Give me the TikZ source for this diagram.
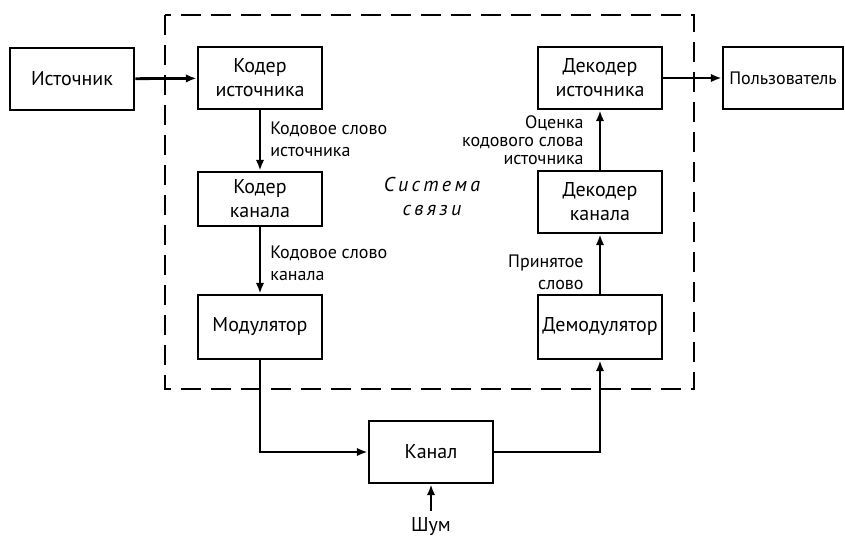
\documentclass[tikz,border=0pt]{standalone}
\usepackage{fontspec}
\setmainfont{PT Sans}
\usetikzlibrary{arrows.meta,positioning}

\begin{document}
\begin{tikzpicture}[x=0.5pt,y=-0.5pt,
        bx/.style={draw,line width=1.4pt,minimum width=62pt,minimum height=31pt,
                   align=center,inner sep=2pt,font=\normalsize},
        lb/.style={font=\small,inner sep=0pt},
        ar/.style={-{Latex[length=1.9mm,width=1.5mm]},line width=1.4pt}]
      \useasboundingbox (0,0) rectangle (845,538);
      % dashed frame of the system
      \draw[line width=1.4pt,dash pattern=on 10pt off 5pt] (165,15) rectangle (694,389);
      \node[bx] (src) at (72,79) {Источник};
      \node[bx] (scod) at (260,78) {Кодер\\источника};
      \node[bx,minimum height=27pt] (ccod) at (260,199) {Кодер\\канала};
      \node[bx,minimum height=32pt] (mod) at (260,327) {Модулятор};
      \node[bx] (chan) at (431,452) {Канал};
      \node[bx,minimum height=32pt] (demod) at (600,327) {Демодулятор};
      \node[bx] (cdec) at (600,202) {Декодер\\канала};
      \node[bx] (sdec) at (600,78) {Декодер\\источника};
      \node[bx,minimum width=60pt,inner sep=1pt,font=\small] (user) at (783,78) {Пользователь};
      \node (noise) at (431,527) {Шум};
      \node[align=center,font=\normalsize\itshape] (sys) at (432,196) {С\,и\,с\,т\,е\,м\,а\\с\,в\,я\,з\,и};
      % labels on the arrows
      \node[lb,align=left,anchor=north west] (w1) at (270,121) {Кодовое слово\\источника};
      \node[lb,align=left,anchor=north west] (w2) at (270,245) {Кодовое слово\\канала};
      \node[lb,align=right,anchor=north east] (w3) at (584,115) {Оценка\\[-2pt]кодового слова\\[-2pt]источника};
      \node[lb,align=right,anchor=north east] (w4) at (584,254) {Принятое\\слово};
      \draw[ar] (src)--(scod); \draw[ar] (scod)--(ccod); \draw[ar] (ccod)--(mod);
      \draw[ar] (mod.south) |- (chan.west); \draw[ar] (chan.east) -| (demod.south);
      \draw[ar] (demod)--(cdec); \draw[ar] (cdec)--(sdec); \draw[ar] (sdec)--(user);
      \draw[ar] (noise)--(chan);
    \end{tikzpicture}
\end{document}
